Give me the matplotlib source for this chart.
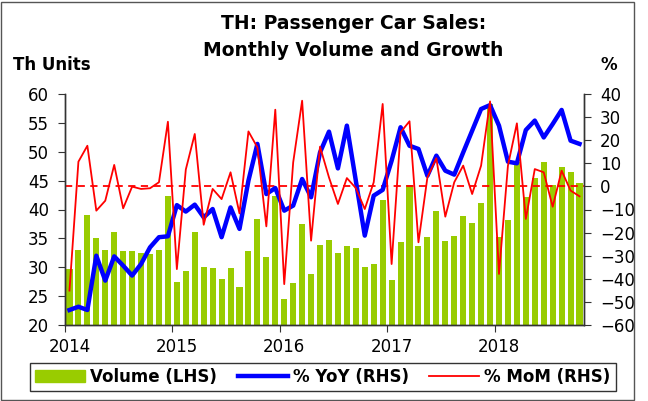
import matplotlib
matplotlib.use("Agg")
import matplotlib.pyplot as plt
from matplotlib.patches import Rectangle

plt.rcParams['font.family'] = ['DejaVu Sans']

# Datos mensuales, enero 2014 - octubre 2018
years = ["2014", "2015", "2016", "2017", "2018"]

volume = [29.7, 33.0, 39.0, 35.0, 33.0, 36.1, 32.8, 32.8, 32.5, 32.3, 33.0, 42.3,
          27.4, 29.4, 36.1, 30.1, 29.8, 28.0, 29.8, 26.5, 32.9, 38.3, 31.7, 42.4,
          24.5, 27.3, 37.5, 28.8, 33.9, 34.8, 32.4, 33.6, 33.3, 30.1, 30.6, 41.7,
          27.8, 34.3, 44.2, 33.6, 35.3, 39.7, 34.6, 35.4, 38.8, 37.6, 41.2, 58.3,
          35.2, 38.1, 48.2, 42.1, 45.5, 48.3, 44.2, 47.3, 46.5, 44.6]

yoy = [-53.5, -52.1, -53.5, -30.0, -40.8, -30.3, -34.3, -38.6, -33.6, -26.4, -22.0, -21.6,
       -8.1, -10.9, -7.9, -13.4, -9.8, -22.0, -9.1, -18.4, 2.5, 18.4, -3.3, -0.7,
       -10.5, -8.3, 3.2, -4.7, 14.7, 23.7, 7.8, 26.3, 2.5, -21.3, -4.0, -1.5,
       11.1, 25.6, 17.6, 16.2, 4.6, 13.3, 6.8, 5.1, 14.7, 24.1, 33.5, 35.2,
       26.3, 10.7, 10.0, 24.4, 28.5, 21.2, 27.0, 33.1, 19.8, 18.4]

mom = [-45.1, 10.7, 17.6, -10.5, -6.2, 9.3, -9.5, -0.1, -1.1, -0.8, 1.8, 28.0,
       -35.8, 7.3, 22.7, -16.6, -1.1, -5.5, 6.1, -11.7, 23.8, 16.9, -17.3, 33.2,
       -42.3, 10.4, 37.1, -23.5, 17.2, 3.9, -7.6, 3.6, -0.7, -9.8, 1.8, 35.7,
       -33.6, 23.4, 28.2, -24.2, 3.9, 12.2, -13.1, 1.8, 9.0, -3.3, 9.0, 36.8,
       -37.9, 9.0, 27.3, -14.1, 7.5, 6.1, -8.8, 6.8, -1.8, -4.3]

x = list(range(len(volume)))

fig = plt.figure(figsize=(6.48, 4.01), dpi=100)
ax = fig.add_axes([65/648, 76/401, 519/648, 231/401])
ax2 = ax.twinx()

# Barras de volumen (eje izquierdo)
ax.bar(x, volume, width=0.68, color='#99CC00', zorder=2)
ax.set_ylim(20, 60)
ax.set_xlim(-0.5, len(volume) - 0.5)
ax.set_yticks(range(20, 61, 5))

# Lineas de crecimiento (eje derecho)
ax2.axhline(0, color='#FF0000', lw=1.3, ls=(0, (4, 3)), zorder=1)
ax2.plot(x, yoy, color='#0000FF', lw=3.2, solid_joinstyle='round', zorder=3)
ax2.plot(x, mom, color='#FF0000', lw=1.3, zorder=4)
ax2.set_ylim(-60, 40)
ax2.set_yticks(range(-60, 41, 10))

# Ticks del eje x: marcas entre años, etiquetas en enero
ax.set_xticks([i * 12 - 0.5 for i in range(len(years))])
ax.set_xticklabels([])
ax.set_xticks([i * 12 for i in range(len(years))], minor=True)
ax.set_xticklabels(years, minor=True)
ax.tick_params(axis='x', which='major', length=5, direction='out', color='#333333')
ax.tick_params(axis='x', which='minor', length=0, pad=9, labelsize=12)
ax.tick_params(axis='y', length=5, direction='out', labelsize=12, pad=6.5, color='#333333')
ax2.tick_params(axis='y', length=5, direction='out', labelsize=12, pad=6.5, color='#333333')

for a in (ax, ax2):
    a.spines['top'].set_visible(False)
    for s in ('left', 'right', 'bottom'):
        a.spines[s].set_color('#333333')
        a.spines[s].set_linewidth(1.0)

# Titulos
fig.text(0.5455, 1 - 29/401, "TH: Passenger Car Sales:", ha='center', va='baseline',
         fontsize=13.5, fontweight='bold')
fig.text(0.5455, 1 - 56.5/401, "Monthly Volume and Growth", ha='center', va='baseline',
         fontsize=13.5, fontweight='bold')
fig.text(13/648, 1 - 70/401, "Th Units", ha='left', va='baseline', fontsize=12, fontweight='bold')
fig.text(609/648, 1 - 70/401, "%", ha='center', va='baseline', fontsize=12, fontweight='bold')

# Leyenda
h1 = Rectangle((0, 0), 1, 1, color='#99CC00')
h2, = ax2.plot([], [], color='#0000FF', lw=3.2)
h3, = ax2.plot([], [], color='#FF0000', lw=1.3)
leg = fig.legend([h1, h2, h3], ["Volume (LHS)", "% YoY (RHS)", "% MoM (RHS)"],
                 loc='center', bbox_to_anchor=(22/648, 10/401, 602/648, 29/401),
                 mode='expand', ncol=3,
                 frameon=True, fancybox=False, edgecolor='black',
                 prop={'weight': 'bold', 'size': 12}, handlelength=3.0,
                 handletextpad=0.3, columnspacing=1.0, borderpad=0.3)
leg.get_frame().set_linewidth(1.0)

# Marco de la figura
fig.patches.append(Rectangle((0.002, 0.002), 0.976, 0.993, transform=fig.transFigure,
                             fill=False, edgecolor='#555555', lw=1.0))

fig.savefig("out.png", dpi=100)
